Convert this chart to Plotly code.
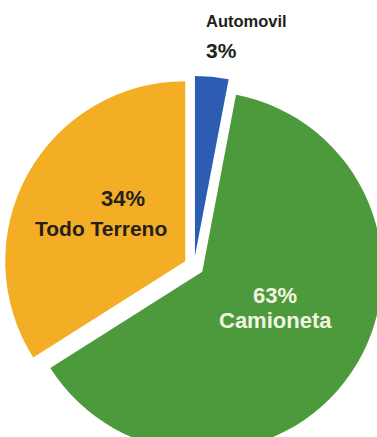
import plotly.graph_objects as go

categories = ["Automovil", "Camioneta", "Todo Terreno"]
values = [3, 63, 34]
colors = ["#2C5DB3", "#4C9A3B", "#F3AE25"]
pulls = [0.0556, 0.0556, 0.0556]

fig = go.Figure(go.Pie(
    labels=categories,
    values=values,
    sort=False,
    direction="clockwise",
    rotation=0,
    pull=pulls,
    marker=dict(colors=colors, line=dict(width=0)),
    textinfo="none",
    hoverinfo="label+percent",
    showlegend=False,
))

font = "Liberation Sans, Arial, sans-serif"
dark = "#231f1c"
light = "#f0f4e0"

def ann(text, x, y, size, color, xanchor="center"):
    fig.add_annotation(text="<b>%s</b>" % text, x=x, y=y, xref="paper", yref="paper",
                       xanchor=xanchor, yanchor="middle", showarrow=False,
                       font=dict(family=font, size=size, color=color))

W, H, L, T = 384, 456, 4, 76
pw, ph = W - L, H - T

def px(x):
    return (x - L) / pw

def py(y):
    return 1 - (y - T) / ph

ann(categories[0], px(204), py(21), 16.5, dark, "left")
ann("%d%%" % values[0], px(204), py(50), 21, dark, "left")
ann("%d%%" % values[2], px(123), py(198), 22, dark)
ann(categories[2], px(101), py(228), 21, dark)
ann("%d%%" % values[1], px(275), py(295), 22, light)
ann(categories[1], px(275), py(320), 22, light)

fig.update_layout(
    width=W, height=H,
    margin=dict(l=L, r=0, t=T, b=0),
    paper_bgcolor="white",
    plot_bgcolor="white",
)

fig.write_html(
    "out.html",
    config={"displayModeBar": False},
    post_script="document.body.style.margin='0';"
                "document.body.style.overflow='hidden';"
                "document.documentElement.style.overflow='hidden';",
)
